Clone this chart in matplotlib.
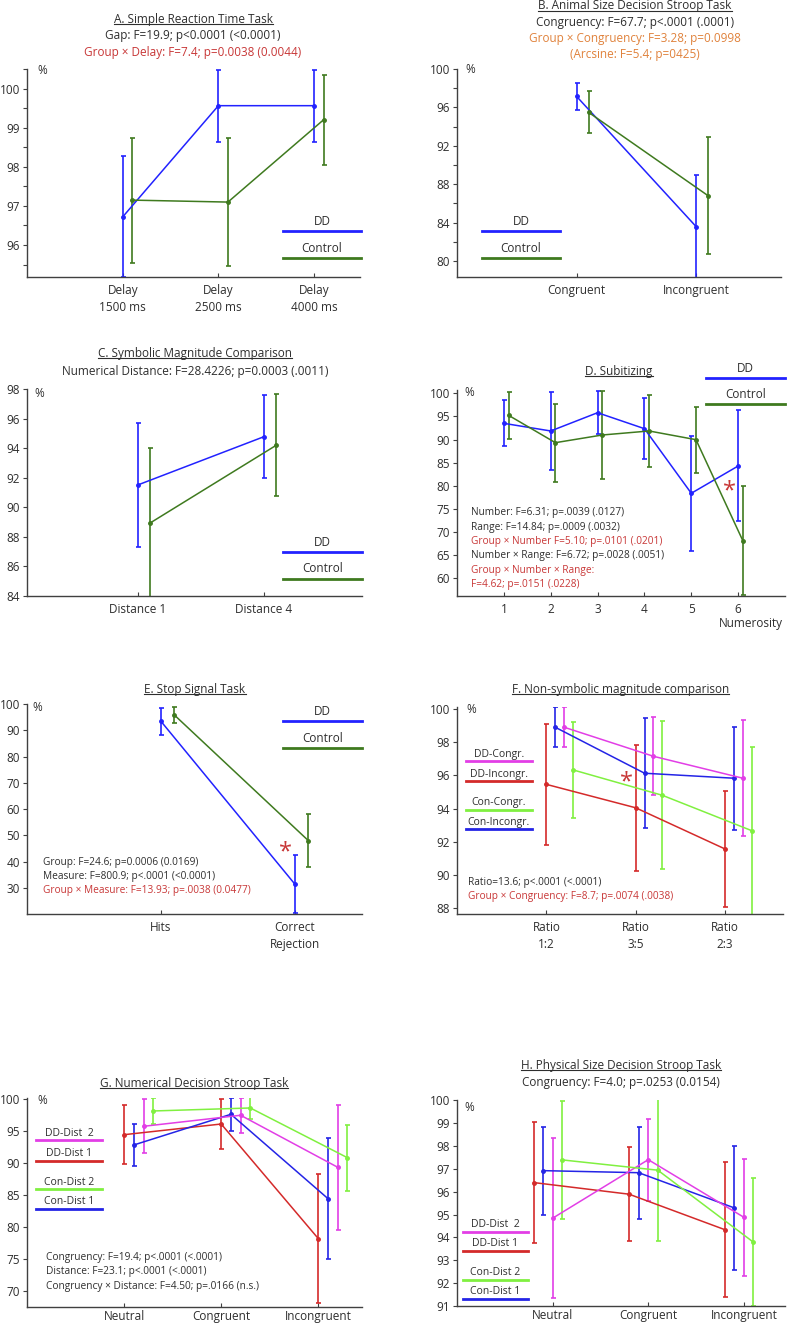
import numpy as np
import matplotlib
matplotlib.use('Agg')
from matplotlib import pyplot as plt
from matplotlib.lines import Line2D
from matplotlib.ticker import MultipleLocator

plt.rcParams['font.family'] = ['Open Sans', 'DejaVu Sans']

# ---- colours
DDC  = '#2222ff'   # DD
CONC = '#3f7a1f'   # Control
RED  = '#d42a2a'
MAG  = '#e23ee6'
LGR  = '#80f040'
BLU  = '#2424e6'
TXT  = '#2e2e2e'
SRED = '#c83737'
ORNG = '#e0823c'

# ---- A. simple reaction time
a_labels  = ['Delay\n1500 ms', 'Delay\n2500 ms', 'Delay\n4000 ms']
a_dd      = [96.72, 99.57, 99.57]
a_dd_err  = [1.55, 0.92, 0.92]
a_con     = [97.15, 97.10, 99.21]
a_con_err = [1.60, 1.63, 1.15]

# ---- B. animal size stroop
b_labels  = ['Congruent', 'Incongruent']
b_dd      = [97.15, 83.58]
b_dd_err  = [1.44, 5.40]
b_con     = [95.49, 86.80]
b_con_err = [2.20, 6.10]

# ---- C. symbolic magnitude
c_labels  = ['Distance 1', 'Distance 4']
c_dd      = [91.51, 94.77]
c_dd_err  = [4.21, 2.80]
c_con     = [88.95, 94.20]
c_con_err = [5.03, 3.47]

# ---- D. subitizing
d_labels  = ['1', '2', '3', '4', '5', '6']
d_dd      = [93.5, 91.85, 95.8, 92.35, 78.38, 84.28]
d_dd_err  = [4.97, 8.5, 4.6, 6.6, 12.4, 12.0]
d_con     = [95.24, 89.32, 90.98, 91.85, 89.97, 68.13]
d_con_err = [5.1, 8.4, 9.6, 7.7, 7.1, 11.8]

# ---- E. stop signal
e_labels  = ['Hits', 'Correct\nRejection']
e_dd      = [93.4, 31.4]
e_dd_err  = [5.1, 11.1]
e_con     = [95.8, 48.0]
e_con_err = [2.9, 10.0]

# ---- F. non-symbolic magnitude
f_labels         = ['Ratio\n1:2', 'Ratio\n3:5', 'Ratio\n2:3']
f_dd_incon       = [95.46, 94.05, 91.57]
f_dd_incon_err   = [3.65, 3.80, 3.50]
f_con_incon      = [98.90, 96.13, 95.83]
f_con_incon_err  = [1.20, 3.30, 3.10]
f_dd_congr       = [98.90, 97.15, 95.83]
f_dd_congr_err   = [1.20, 2.35, 3.50]
f_con_congr      = [96.33, 94.80, 92.67]
f_con_congr_err  = [2.90, 4.45, 5.06]

# ---- G. numerical stroop
g_labels       = ['Neutral', 'Congruent', 'Incongruent']
g_dd_d1        = [94.46, 96.13, 78.2]
g_dd_d1_err    = [4.65, 3.9, 10.1]
g_con_d1       = [92.85, 97.65, 84.45]
g_con_d1_err   = [3.35, 2.55, 9.5]
g_dd_d2        = [95.77, 97.5, 89.36]
g_dd_d2_err    = [4.2, 2.75, 9.8]
g_con_d2       = [98.17, 98.64, 90.86]
g_con_d2_err   = [2.0, 1.7, 5.15]

# ---- H. physical size stroop
h_labels       = ['Neutral', 'Congruent', 'Incongruent']
h_dd_d1        = [96.4, 95.89, 94.34]
h_dd_d1_err    = [2.65, 2.05, 2.95]
h_con_d1       = [96.92, 96.83, 95.29]
h_con_d1_err   = [1.93, 2.02, 2.7]
h_dd_d2        = [94.84, 97.4, 94.88]
h_dd_d2_err    = [3.5, 1.8, 2.57]
h_con_d2       = [97.39, 96.94, 93.79]
h_con_d2_err   = [2.58, 3.1, 2.8]


W, H = 787, 1326
fig = plt.figure(figsize=(W / 100, H / 100), dpi=100)
fig.patch.set_facecolor('white')

TS = 8.5    # titles, tick labels
SS = 7.3    # stats text
LS = 7.5    # small legends


def fx(x):
    return x / W


def fy(y):
    return 1 - y / H


def ftext(x, y, s, **kw):
    kw.setdefault('color', TXT)
    kw.setdefault('size', SS)
    return fig.text(fx(x), fy(y), s, va='center', **kw)


def panel(l, t, r, b, xlim, ylim, ystep, labels, yminor=None, xpad=5):
    ax = fig.add_axes([fx(l), fy(b), (r - l) / W, (b - t) / H])
    ax.set_xlim(*xlim)
    ax.set_ylim(*ylim)
    for s in ['top', 'right']:
        ax.spines[s].set_visible(False)
    for s in ['left', 'bottom']:
        ax.spines[s].set_color('#404040')
        ax.spines[s].set_linewidth(1.0)
    ax.yaxis.set_major_locator(MultipleLocator(ystep))
    if yminor:
        ax.yaxis.set_minor_locator(MultipleLocator(yminor))
    ax.set_xticks(np.arange(1, len(labels) + 1))
    ax.set_xticklabels(labels, linespacing=1.4)
    ax.tick_params(axis='y', direction='out', length=3, width=0.8,
                   colors='#404040', labelsize=TS, labelcolor=TXT, pad=2)
    ax.tick_params(axis='y', which='minor', direction='out', length=3,
                   width=0.8, colors='#404040')
    ax.tick_params(axis='x', direction='in', length=3, width=0.8,
                   colors='#404040', labelsize=TS, labelcolor=TXT, pad=xpad)
    return ax


def series(ax, ys, errs, color, offset, lw=1.1):
    x = np.arange(1, len(ys) + 1) + offset
    ax.errorbar(x, ys, yerr=errs, color=color, lw=lw, marker='o', ms=2.5,
                capsize=1.8, elinewidth=1.2, capthick=1.2)


def leg(x0, x1, yline, ytext, label, color, size=TS, lw=2):
    fig.add_artist(Line2D([fx(x0), fx(x1)], [fy(yline)] * 2, color=color,
                          lw=lw, transform=fig.transFigure))
    ftext((x0 + x1) / 2, ytext, label, ha='center', size=size)


underline = []


def title(x, y, s):
    t = ftext(x, y, s, ha='center', size=TS)
    underline.append(t)


def star(ax, x, y):
    ax.text(x, y, '*', color=SRED, size=17, ha='center', va='center')


# ------------------------------------------------------------------ A
ax = panel(27, 69, 360, 277, (0, 3.48), (95.18, 100.51), 1, a_labels, 0.5)
ax.set_yticks([96, 97, 98, 99, 100])
series(ax, a_dd, a_dd_err, DDC, 0)
series(ax, a_con, a_con_err, CONC, 0.1)
title(193, 19, 'A. Simple Reaction Time Task')
ftext(193, 36, 'Gap: F=19.9; p<0.0001 (<0.0001)', ha='center', size=TS)
ftext(193, 52.5, 'Group × Delay: F=7.4; p=0.0038 (0.0044)', ha='center',
      size=TS, color=SRED)
ftext(37, 71, '%', size=TS)
leg(283, 361, 231, 221.5, 'DD', DDC)
leg(283, 361, 258, 248, 'Control', CONC)

# ------------------------------------------------------------------ B
ax = panel(457, 69, 781, 277, (0, 2.71), (78.33, 100), 4, b_labels, 2)
series(ax, b_dd, b_dd_err, DDC, 0)
series(ax, b_con, b_con_err, CONC, 0.1)
title(635, 6, 'B. Animal Size Decision Stroop Task')
ftext(635, 22.3, 'Congruency: F=67.7; p<.0001 (.0001)', ha='center', size=TS)
ftext(635, 38.3, 'Group × Congruency: F=3.28; p=0.0998', ha='center',
      size=TS, color=ORNG)
ftext(635, 54.3, '(Arcsine: F=5.4; p=0425)', ha='center', size=TS, color=ORNG)
ftext(465, 69.5, '%', size=TS)
leg(482, 560, 231, 221.5, 'DD', DDC)
leg(482, 560, 258, 248, 'Control', CONC)

# ------------------------------------------------------------------ C
ax = panel(27, 389, 362, 596, (0.12, 2.78), (84, 98), 2, c_labels)
series(ax, c_dd, c_dd_err, DDC, 0)
series(ax, c_con, c_con_err, CONC, 0.1)
title(195, 354, 'C. Symbolic Magnitude Comparison')
ftext(195, 371, 'Numerical Distance: F=28.4226; p=0.0003 (.0011)',
      ha='center', size=TS)
ftext(34, 393, '%', size=TS)
leg(283, 362, 552, 542.5, 'DD', DDC)
leg(283, 362, 579, 569, 'Control', CONC)

# ------------------------------------------------------------------ D
ax = panel(457, 390, 785, 596, (0, 7), (56.17, 100.71), 5, d_labels)
series(ax, d_dd, d_dd_err, DDC, 0)
series(ax, d_con, d_con_err, CONC, 0.1)
star(ax, 5.81, 78.8)
title(619, 371, 'D. Subitizing')
ftext(464, 392.5, '%', size=TS)
leg(706, 785, 377.7, 368.5, 'DD', DDC)
leg(706, 785, 404.3, 394.5, 'Control', CONC)
ftext(783, 624, 'Numerosity', ha='right', size=TS)
d_stats = ['Number: F=6.31; p=.0039 (.0127)',
           'Range: F=14.84; p=.0009 (.0032)',
           'Group × Number F=5.10; p=.0101 (.0201)',
           'Number × Range: F=6.72; p=.0028 (.0051)',
           'Group × Number × Range:',
           'F=4.62; p=.0151 (.0228)']
d_cols = [TXT, TXT, SRED, TXT, SRED, SRED]
for i, (s, c) in enumerate(zip(d_stats, d_cols)):
    ftext(471, 513 + 14.25 * i, s, color=c)

# ------------------------------------------------------------------ E
ax = panel(27, 704, 362, 914, (0, 2.5), (20.1, 100), 10, e_labels)
ax.set_yticks([30, 40, 50, 60, 70, 80, 90, 100])
series(ax, e_dd, e_dd_err, DDC, 0)
series(ax, e_con, e_con_err, CONC, 0.1)
star(ax, 1.93, 43.5)
title(195, 689.3, 'E. Stop Signal Task')
ftext(32, 707.5, '%', size=TS)
leg(283, 362, 721, 711.5, 'DD', DDC)
leg(283, 362, 748, 738.3, 'Control', CONC)
e_stats = ['Group: F=24.6; p=0.0006 (0.0169)',
           'Measure: F=800.9; p<.0001 (<0.0001)',
           'Group × Measure: F=13.93; p=.0038 (0.0477)']
e_cols = [TXT, TXT, SRED]
for i, (s, c) in enumerate(zip(e_stats, e_cols)):
    ftext(43.3, 862 + 14 * i, s, color=c)

# ------------------------------------------------------------------ F
ax = panel(457, 707, 783, 914, (0, 3.65), (87.65, 100.12), 2, f_labels)
series(ax, f_dd_incon, f_dd_incon_err, RED, 0)
series(ax, f_con_incon, f_con_incon_err, BLU, 0.1)
series(ax, f_dd_congr, f_dd_congr_err, MAG, 0.2)
series(ax, f_con_congr, f_con_congr_err, LGR, 0.3)
star(ax, 1.9, 95.6)
title(620.7, 689.3, 'F. Non-symbolic magnitude comparison')
ftext(466, 709.5, '%', size=TS)
leg(466, 532, 761, 754, 'DD-Congr.', MAG, size=LS)
leg(466, 532, 781, 774, 'DD-Incongr.', RED, size=LS)
leg(466, 532, 809.7, 802.5, 'Con-Congr.', LGR, size=LS)
leg(466, 532, 829.3, 822.5, 'Con-Incongr.', BLU, size=LS)
ftext(468.3, 882.3, 'Ratio=13.6; p<.0001 (<.0001)')
ftext(468.3, 897, 'Group × Congruency: F=8.7; p=.0074 (.0038)', color=SRED)

# ------------------------------------------------------------------ G
ax = panel(27, 1098, 362, 1307, (0, 3.45), (67.5, 100.2), 5, g_labels,
           xpad=2)
series(ax, g_dd_d1, g_dd_d1_err, RED, 0)
series(ax, g_con_d1, g_con_d1_err, BLU, 0.1)
series(ax, g_dd_d2, g_dd_d2_err, MAG, 0.2)
series(ax, g_con_d2, g_con_d2_err, LGR, 0.3)
title(194.3, 1083.7, 'G. Numerical Decision Stroop Task')
ftext(37, 1101, '%', size=TS)
leg(36, 102, 1140.3, 1133.5, 'DD-Dist  2', MAG, size=LS)
leg(36, 102, 1160.7, 1153.3, 'DD-Dist 1', RED, size=LS)
leg(36, 102, 1189.3, 1182.3, 'Con-Dist 2', LGR, size=LS)
leg(36, 102, 1208.7, 1202, 'Con-Dist 1', BLU, size=LS)
g_stats = ['Congruency: F=19.4; p<.0001 (<.0001)',
           'Distance: F=23.1; p<.0001 (<.0001)',
           'Congruency × Distance: F=4.50; p=.0166 (n.s.)']
for i, s in enumerate(g_stats):
    ftext(45.7, 1257.3 + 14.5 * i, s)

# ------------------------------------------------------------------ H
ax = panel(457, 1100, 785, 1306, (0, 3.43), (91.0, 100.01), 1, h_labels,
           xpad=2)
series(ax, h_dd_d1, h_dd_d1_err, RED, -0.2)
series(ax, h_con_d1, h_con_d1_err, BLU, -0.1)
series(ax, h_dd_d2, h_dd_d2_err, MAG, 0)
series(ax, h_con_d2, h_con_d2_err, LGR, 0.1)
title(621, 1065.7, 'H. Physical Size Decision Stroop Task')
ftext(621, 1082.7, 'Congruency: F=4.0; p=.0253 (0.0154)', ha='center', size=TS)
ftext(464, 1107.5, '%', size=TS)
leg(463, 528, 1231.7, 1224.5, 'DD-Dist  2', MAG, size=LS)
leg(463, 528, 1251, 1244, 'DD-Dist 1', RED, size=LS)
leg(463, 528, 1279.7, 1272.7, 'Con-Dist 2', LGR, size=LS)
leg(463, 528, 1299.3, 1292, 'Con-Dist 1', BLU, size=LS)

# underline the panel titles
fig.canvas.draw()
for t in underline:
    bb = t.get_window_extent()
    yy = (bb.y0 + 2) / fig.bbox.height
    fig.add_artist(Line2D([bb.x0 / fig.bbox.width, bb.x1 / fig.bbox.width],
                          [yy, yy], color=TXT, lw=0.8,
                          transform=fig.transFigure))

fig.savefig('out.png', dpi=100)
